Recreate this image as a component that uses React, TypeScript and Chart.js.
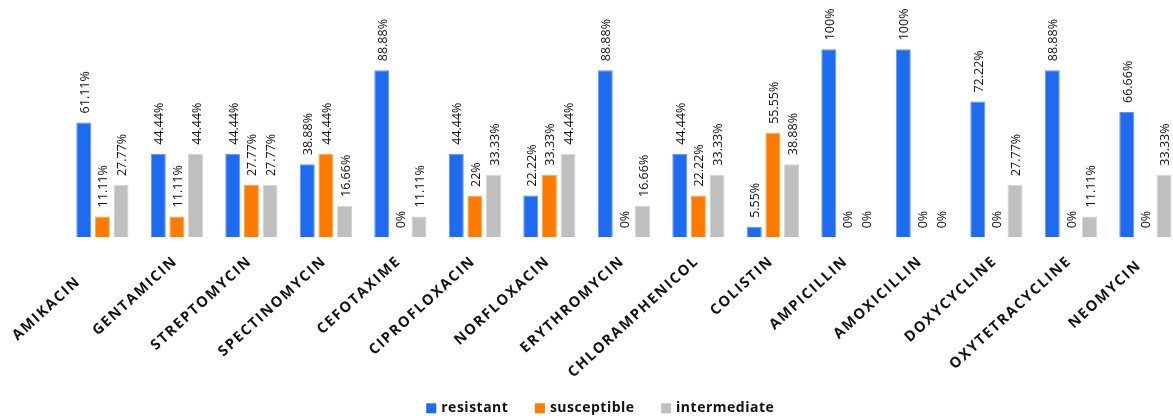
import { useEffect, useRef } from "react";
import { Chart, registerables } from "chart.js";

Chart.register(...registerables);

// Antibiotic susceptibility profile (% of isolates)
const drugs = [
  "AMIKACIN",
  "GENTAMICIN",
  "STREPTOMYCIN",
  "SPECTINOMYCIN",
  "CEFOTAXIME",
  "CIPROFLOXACIN",
  "NORFLOXACIN",
  "ERYTHROMYCIN",
  "CHLORAMPHENICOL",
  "COLISTIN",
  "AMPICILLIN",
  "AMOXICILLIN",
  "DOXYCYCLINE",
  "OXYTETRACYCLINE",
  "NEOMYCIN",
];

const resistant = [61.11, 44.44, 44.44, 38.88, 88.88, 44.44, 22.22, 88.88, 44.44, 5.55, 100, 100, 72.22, 88.88, 66.66];
const susceptible = [11.11, 11.11, 27.77, 44.44, 0, 22, 33.33, 0, 22.22, 55.55, 0, 0, 0, 0, 0];
const intermediate = [27.77, 44.44, 27.77, 16.66, 11.11, 33.33, 44.44, 16.66, 33.33, 38.88, 0, 0, 27.77, 11.11, 33.33];

const seriesNames = ["resistant", "susceptible", "intermediate"];
const seriesValues = [resistant, susceptible, intermediate];
const fillColors = ["#1E6BEF", "#FF7B00", "#BFBFBF"];
const edgeColors = ["#5E95F4", "#FFA552", "#D6D6D6"];

const yMax = 120;

const labelAngle = (-42.5 * Math.PI) / 180;
// a couple of short labels sit further down their slant
const labelSlide: Record<string, number> = { AMIKACIN: 30, NEOMYCIN: 6 };

const valueLabels = {
  id: "valueLabels",
  afterDatasetsDraw(chart: any) {
    const { ctx } = chart;
    ctx.save();
    ctx.font = "12.5px 'Open Sans'";
    ctx.fillStyle = "#111";
    ctx.textAlign = "left";
    ctx.textBaseline = "middle";
    chart.data.datasets.forEach((ds: any, di: number) => {
      const meta = chart.getDatasetMeta(di);
      meta.data.forEach((bar: any, i: number) => {
        const v = ds.data[i];
        ctx.save();
        ctx.translate(bar.x + 1.5, bar.y - 9);
        ctx.rotate(-Math.PI / 2);
        ctx.fillText(`${v}%`, 0, 0);
        ctx.restore();
      });
    });
    ctx.restore();
  },
};

const categoryLabels = {
  id: "categoryLabels",
  afterDraw(chart: any) {
    const { ctx, chartArea } = chart;
    const xs = chart.scales.x;
    const spacing = 1.6;
    ctx.save();
    ctx.font = "700 14.5px 'Open Sans'";
    (ctx as any).letterSpacing = `${spacing}px`;
    ctx.fillStyle = "#111";
    ctx.textAlign = "right";
    ctx.textBaseline = "alphabetic";
    drugs.forEach((d, i) => {
      const x = xs.getPixelForValue(i);
      const slide = labelSlide[d] ?? 0;
      ctx.save();
      ctx.translate(x, chartArea.bottom + 26);
      ctx.rotate(labelAngle);
      ctx.fillText(d, spacing - slide, 0);
      ctx.restore();
    });
    ctx.restore();
  },
};

const legendRow = {
  id: "legendRow",
  afterDraw(chart: any) {
    const { ctx } = chart;
    const spacing = 0.5;
    const box = 10;
    const boxGap = 5;
    const itemGap = 27;
    const centerX = 600;
    const centerY = 408.3;
    ctx.save();
    ctx.font = "700 14px 'Open Sans'";
    (ctx as any).letterSpacing = `${spacing}px`;
    const widths = seriesNames.map((n) => ctx.measureText(n).width - spacing);
    const total =
      widths.reduce((a, w) => a + box + boxGap + w, 0) + itemGap * (seriesNames.length - 1);
    let x = centerX - total / 2;
    ctx.textAlign = "left";
    ctx.textBaseline = "middle";
    seriesNames.forEach((n, i) => {
      ctx.fillStyle = fillColors[i];
      ctx.fillRect(x, centerY - box / 2, box, box);
      x += box + boxGap;
      ctx.fillStyle = "#111";
      ctx.fillText(n, x, centerY);
      x += widths[i] + itemGap;
    });
    ctx.restore();
  },
};

export default function App() {
  const ref = useRef<HTMLCanvasElement>(null);

  useEffect(() => {
    const canvas = ref.current;
    if (!canvas) return;
    const chart = new Chart(canvas, {
      type: "bar",
      data: {
        labels: drugs,
        datasets: seriesNames.map((name, i) => ({
          label: name,
          data: seriesValues[i],
          backgroundColor: fillColors[i],
          borderColor: edgeColors[i],
          borderWidth: 1,
          categoryPercentage: 0.75,
          barPercentage: 0.805,
        })),
      },
      options: {
        responsive: false,
        animation: false,
        devicePixelRatio: 1,
        layout: { padding: { left: 65.15, right: 7.35, top: 11.7, bottom: 180.7 } },
        scales: {
          x: { display: false },
          y: { display: false, min: 0, max: yMax },
        },
        plugins: {
          legend: { display: false },
          tooltip: { enabled: false },
        },
      },
      plugins: [valueLabels, categoryLabels, legendRow],
    });
    return () => chart.destroy();
  }, []);

  return (
    <div
      style={{
        position: "fixed",
        left: 0,
        top: 0,
        width: 1173,
        height: 418,
        overflow: "hidden",
        background: "#fff",
      }}
    >
      <canvas ref={ref} width={1190} height={418} style={{ display: "block", width: 1190, height: 418 }} />
    </div>
  );
}
